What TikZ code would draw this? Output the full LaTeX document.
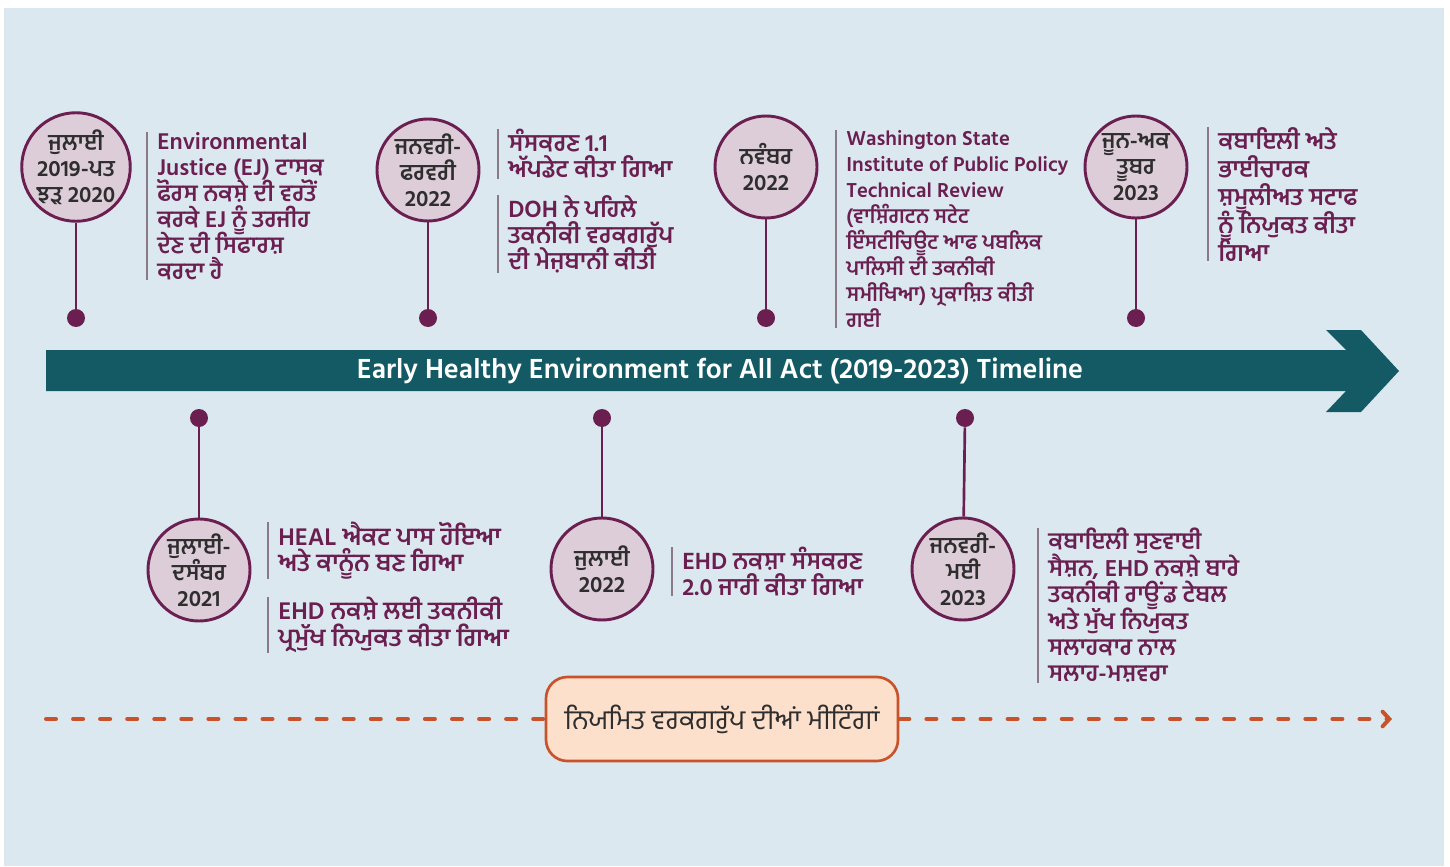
\documentclass[tikz,border=0pt]{standalone}
\usepackage{fontspec}
\setmainfont{Hind Jalandhar}[Script=Gurmukhi]
\usetikzlibrary{arrows.meta, positioning}
\definecolor{bgblue}{HTML}{DCE8F0}
\definecolor{barteal}{HTML}{145A64}
\definecolor{plum}{HTML}{6A1F50}
\definecolor{mauve}{HTML}{DDCDD8}
\definecolor{dategrey}{HTML}{2E2E2E}
\definecolor{sepgrey}{HTML}{8A7A88}
\definecolor{rust}{HTML}{C8532B}
\definecolor{peach}{HTML}{FCE0CB}
\newcommand{\tightlines}{\lineskiplimit=-20pt\lineskip=0pt}
\tikzstyle{datecircle} = [circle, draw=plum, line width=2.2pt, fill=mauve, minimum size=76.5pt, inner sep=0pt, align=center, text=dategrey, font=\fontsize{17}{19.5}\selectfont\bfseries\tightlines]
\tikzstyle{pin} = [circle, fill=plum, minimum size=13.5pt, inner sep=0pt]
\tikzstyle{stem} = [plum, line width=2pt]
\tikzstyle{desc} = [anchor=north west, align=left, inner xsep=7.5pt, inner ysep=0pt, text=plum, font=\fontsize{18}{19.5}\selectfont\bfseries\tightlines]
\tikzstyle{sep} = [sepgrey, line width=1pt]
\tikzstyle{meetbox} = [rectangle, rounded corners=16pt, draw=rust, line width=2pt, fill=peach, minimum width=264pt, minimum height=63pt, text=dategrey, font=\fontsize{20.5}{22}\selectfont]
\tikzstyle{meetline} = [rust, line width=3pt, line cap=round, dash pattern=on 7.5pt off 12.8pt]

\begin{document}
\begin{tikzpicture}[x=0.75pt, y=-0.75pt]
		\useasboundingbox (0,0) rectangle (1450,867);
		\fill [bgblue] (4,8) rectangle (1444,866);

		% timeline arrow
		\fill [barteal] (46,350) -- (1346,350) -- (1326,330) -- (1361,330) -- (1399,371) -- (1361,412) -- (1326,412) -- (1346,391) -- (46,391) -- cycle;
		\node (Title) [text=white, font=\fontsize{21.2}{24}\selectfont\bfseries] at (720,371) {Early Healthy Environment for All Act (2019-2023) Timeline};

		% above the bar
		\node (DateJul19) [datecircle] at (76,167) {ਜੁਲਾਈ\\2019-ਪਤ\\ਝੜ 2020};
		\node (PinJul19) [pin] at (76,318) {};
		\node (TextJul19) [desc, font=\fontsize{17.5}{19.5}\selectfont\bfseries\tightlines] at (147,132) {Environmental\\Justice (EJ) ਟਾਸਕ\\ਫੋਰਸ ਨਕਸ਼ੇ ਦੀ ਵਰਤੋਂ\\ਕਰਕੇ EJ ਨੂੰ ਤਰਜੀਹ\\ਦੇਣ ਦੀ ਸਿਫਾਰਸ਼\\ਕਰਦਾ ਹੈ};

		\node (DateJan22) [datecircle] at (428,170) {ਜਨਵਰੀ-\\ਫਰਵਰੀ\\2022};
		\node (PinJan22) [pin] at (428,318) {};
		\node (TextJan22a) [desc] at (498,129) {ਸੰਸਕਰਣ 1.1\\ਅੱਪਡੇਟ ਕੀਤਾ ਗਿਆ};
		\node (TextJan22b) [desc] at (498,195) {DOH ਨੇ ਪਹਿਲੇ\\ਤਕਨੀਕੀ ਵਰਕਗਰੁੱਪ\\ਦੀ ਮੇਜ਼ਬਾਨੀ ਕੀਤੀ};

		\node (DateNov22) [datecircle] at (766,167) {ਨਵੰਬਰ\\2022};
		\node (PinNov22) [pin] at (766,318) {};
		\node (TextNov22) [desc, font=\fontsize{15.5}{19.5}\selectfont\bfseries\tightlines] at (836,130) {Washington State\\Institute of Public Policy\\Technical Review\\(ਵਾਸ਼ਿੰਗਟਨ ਸਟੇਟ\\ਇੰਸਟੀਚਿਊਟ ਆਫ ਪਬਲਿਕ\\ਪਾਲਿਸੀ ਦੀ ਤਕਨੀਕੀ\\ਸਮੀਖਿਆ) ਪ੍ਰਕਾਸ਼ਿਤ ਕੀਤੀ\\ਗਈ};

		\node (DateJun23) [datecircle] at (1136,167) {ਜੂਨ-ਅਕ\\ਤੂਬਰ\\2023};
		\node (PinJun23) [pin] at (1136,318) {};
		\node (TextJun23) [desc, font=\fontsize{18}{21}\selectfont\bfseries\tightlines] at (1208,127) {ਕਬਾਇਲੀ ਅਤੇ\\ਭਾਈਚਾਰਕ\\ਸ਼ਮੂਲੀਅਤ ਸਟਾਫ\\ਨੂੰ ਨਿਯੁਕਤ ਕੀਤਾ\\ਗਿਆ};

		% below the bar
		\node (PinJul21) [pin] at (199,418) {};
		\node (DateJul21) [datecircle] at (199,570) {ਜੁਲਾਈ-\\ਦਸੰਬਰ\\2021};
		\node (TextJul21a) [desc, font=\fontsize{18.5}{19}\selectfont\bfseries\tightlines] at (268,522) {HEAL ਐਕਟ ਪਾਸ ਹੋਇਆ\\ਅਤੇ ਕਾਨੂੰਨ ਬਣ ਗਿਆ};
		\node (TextJul21b) [desc, font=\fontsize{18.5}{20}\selectfont\bfseries\tightlines] at (268,597) {EHD ਨਕਸ਼ੇ ਲਈ ਤਕਨੀਕੀ\\ਪ੍ਰਮੁੱਖ ਨਿਯੁਕਤ ਕੀਤਾ ਗਿਆ};

		\node (PinJul22) [pin] at (602,418) {};
		\node (DateJul22) [datecircle] at (602,569) {ਜੁਲਾਈ\\2022};
		\node (TextJul22) [desc] at (672,547) {EHD ਨਕਸ਼ਾ ਸੰਸਕਰਣ\\2.0 ਜਾਰੀ ਕੀਤਾ ਗਿਆ};

		\node (PinJan23) [pin] at (965,418) {};
		\node (DateJan23) [datecircle] at (963,569) {ਜਨਵਰੀ-\\ਮਈ\\2023};
		\node (TextJan23) [desc, font=\fontsize{17.7}{19.8}\selectfont\bfseries\tightlines] at (1038,528) {ਕਬਾਇਲੀ ਸੁਣਵਾਈ\\ਸੈਸ਼ਨ, EHD ਨਕਸ਼ੇ ਬਾਰੇ\\ਤਕਨੀਕੀ ਰਾਊਂਡ ਟੇਬਲ\\ਅਤੇ ਮੁੱਖ ਨਿਯੁਕਤ\\ਸਲਾਹਕਾਰ ਨਾਲ\\ਸਲਾਹ-ਮਸ਼ਵਰਾ};

		% stems and separators
		\draw [stem] (DateJul19) -- (PinJul19);
		\draw [stem] (DateJan22) -- (PinJan22);
		\draw [stem] (DateNov22) -- (PinNov22);
		\draw [stem] (DateJun23) -- (PinJun23);
		\draw [stem] (PinJul21) -- (DateJul21);
		\draw [stem] (PinJul22) -- (DateJul22);
		\draw [stem] (PinJan23) -- (DateJan23);
		\draw [sep] (TextJul19.north west) -- (TextJul19.south west);
		\draw [sep] (TextJan22a.north west) -- (TextJan22a.south west);
		\draw [sep] (TextJan22b.north west) -- (TextJan22b.south west);
		\draw [sep] (TextNov22.north west) -- (TextNov22.south west);
		\draw [sep] (TextJun23.north west) -- (TextJun23.south west);
		\draw [sep] (TextJul21a.north west) -- (TextJul21a.south west);
		\draw [sep] (TextJul21b.north west) -- (TextJul21b.south west);
		\draw [sep] (TextJul22.north west) -- (TextJul22.south west);
		\draw [sep] (TextJan23.north west) -- (TextJan23.south west);

		% regular meetings
		\coordinate (MeetStart) at (46,719);
		\coordinate (MeetEnd) at (1392,719);
		\node (Meetings) [meetbox] at (722,719) {ਨਿਯਮਿਤ ਵਰਕਗਰੁੱਪ ਦੀਆਂ ਮੀਟਿੰਗਾਂ};
		\draw [meetline] (MeetStart) -- (Meetings);
		\draw [meetline, -{Straight Barb[length=5pt, width=11pt, line cap=round]}] (Meetings) -- (MeetEnd);
\end{tikzpicture}
\end{document}
